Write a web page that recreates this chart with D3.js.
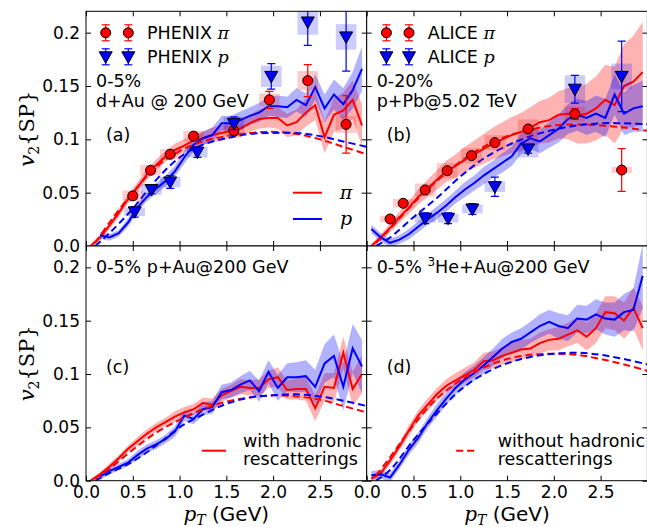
<!DOCTYPE html>
<html>
<head>
<meta charset="utf-8">
<script src="https://cdn.jsdelivr.net/npm/d3@7"></script>
<style>
body { margin: 0; background: #fff; }
text { font-family: "DejaVu Sans", sans-serif; fill: #000; }
.math { font-family: "DejaVu Serif", serif; font-style: italic; }
.rm { font-family: "DejaVu Serif", serif; }
</style>
</head>
<body>
<svg id="chart" width="647" height="527"></svg>
<script>
// ---- data ----
const ptModel = [0.05,0.15,0.25,0.35,0.45,0.55,0.65,0.75,0.85,0.95,1.05,1.15,1.25,1.35,1.45,1.55,1.65,1.75,1.85,1.95,2.05,2.15,2.25,2.35,2.45,2.55,2.65,2.75,2.85,2.95];
const ptNoResc = [0.1,0.25,0.5,0.75,1.0,1.25,1.5,1.75,2.0,2.25,2.5,2.75,3.0];
const xTicks = [0, 0.5, 1.0, 1.5, 2.0, 2.5, 3.0];
const xTickLabels = ['0.0', '0.5', '1.0', '1.5', '2.0', '2.5', ''];
const yTicks = [0, 0.05, 0.1, 0.15, 0.2];
const yTickLabels = ['0.0', '0.05', '0.1', '0.15', '0.2'];

// (a) d+Au 200 GeV
const aPiV2 = [0.000,0.008,0.019,0.031,0.044,0.055,0.067,0.076,0.084,0.090,0.094,0.099,0.101,0.104,0.106,0.108,0.110,0.115,0.119,0.120,0.120,0.113,0.116,0.125,0.132,0.102,0.123,0.127,0.137,0.113];
const aPiErr = [0.002,0.003,0.003,0.004,0.004,0.005,0.005,0.005,0.005,0.006,0.006,0.006,0.006,0.007,0.007,0.007,0.008,0.008,0.009,0.009,0.010,0.011,0.012,0.013,0.014,0.015,0.016,0.017,0.018,0.020];
const aPV2 = [null,0.010,0.008,0.012,0.022,0.036,0.046,0.054,0.061,0.070,0.083,0.095,0.101,0.104,0.115,0.115,0.118,0.122,0.125,0.131,0.131,0.130,0.137,0.132,0.149,0.129,0.142,0.133,0.146,0.166];
const aPErr = [null,0.003,0.003,0.003,0.004,0.004,0.004,0.005,0.005,0.005,0.006,0.006,0.006,0.007,0.007,0.007,0.008,0.008,0.009,0.009,0.010,0.010,0.011,0.011,0.012,0.013,0.014,0.015,0.017,0.021];
const aPiNoResc = [0.003,0.022,0.050,0.074,0.089,0.098,0.103,0.106,0.107,0.105,0.100,0.093,0.086];
const aPNoResc = [0.000,0.012,0.035,0.062,0.083,0.095,0.101,0.105,0.106,0.106,0.103,0.098,0.093];
const phenixPiPt = [0.50,0.69,0.90,1.15,1.58,1.96,2.37,2.78];
const phenixPiV2 = [0.047,0.071,0.086,0.103,0.108,0.137,0.155,0.114];
const phenixPiStat = [0.003,0.003,0.003,0.003,0.004,0.008,0.015,0.027];
const phenixPiSys = [0.005,0.005,0.005,0.005,0.005,0.006,0.009,0.008];
const phenixPPt = [0.52,0.70,0.90,1.19,1.58,1.98,2.37,2.78];
const phenixPV2 = [0.032,0.053,0.060,0.088,0.115,0.159,0.210,0.196];
const phenixPStat = [0.005,0.004,0.006,0.005,0.006,0.012,0.022,0.032];
const phenixPSys = [0.004,0.005,0.005,0.005,0.006,0.010,0.012,0.012];

// (b) p+Pb 5.02 TeV
const bPiV2 = [0.000,0.008,0.017,0.027,0.036,0.046,0.054,0.062,0.070,0.075,0.081,0.086,0.091,0.096,0.100,0.104,0.107,0.111,0.116,0.118,0.123,0.124,0.122,0.124,0.129,0.137,0.132,0.150,0.154,0.163];
const bPiErr = [0.002,0.003,0.004,0.005,0.006,0.007,0.008,0.009,0.010,0.011,0.012,0.013,0.014,0.015,0.016,0.017,0.018,0.019,0.020,0.021,0.022,0.024,0.026,0.028,0.030,0.033,0.036,0.039,0.043,0.047];
const bPV2 = [0.016,0.008,0.003,0.006,0.011,0.018,0.025,0.031,0.038,0.046,0.053,0.059,0.066,0.072,0.078,0.084,0.096,0.101,0.098,0.104,0.110,0.119,0.123,0.120,0.124,0.120,0.142,0.124,0.129,0.131];
const bPErr = [0.004,0.004,0.004,0.004,0.005,0.005,0.005,0.006,0.006,0.006,0.007,0.007,0.008,0.008,0.009,0.009,0.010,0.010,0.011,0.012,0.013,0.014,0.015,0.016,0.017,0.018,0.019,0.020,0.022,0.024];
const bPiNoResc = [0.003,0.016,0.040,0.061,0.079,0.093,0.103,0.109,0.113,0.114,0.113,0.111,0.108];
const bPNoResc = [0.000,0.008,0.027,0.045,0.065,0.082,0.094,0.103,0.109,0.113,0.115,0.115,0.114];
const alicePiPt = [0.25,0.39,0.625,0.86,1.12,1.37,1.725,2.225,2.725];
const alicePiV2 = [0.0253,0.040,0.0525,0.0706,0.0847,0.0969,0.1097,0.1237,0.0712];
const alicePiStat = [0.002,0.002,0.002,0.002,0.002,0.002,0.003,0.005,0.020];
const alicePiSys = [0.003,0.004,0.006,0.007,0.007,0.007,0.009,0.007,0.003];
const alicePPt = [0.625,0.87,1.13,1.37,1.725,2.225,2.725];
const alicePV2 = [0.026,0.026,0.0347,0.0556,0.091,0.147,0.159];
const alicePStat = [0.005,0.005,0.005,0.009,0.004,0.013,0.033];
const alicePSys = [0.004,0.004,0.004,0.005,0.008,0.013,0.012];

// (c) p+Au 200 GeV
const cPiV2 = [0.000,0.006,0.013,0.021,0.030,0.037,0.044,0.050,0.055,0.060,0.064,0.067,0.073,0.071,0.080,0.084,0.088,0.087,0.087,0.095,0.097,0.085,0.086,0.086,0.068,0.088,0.087,0.120,0.086,0.100];
const cPiErr = [0.002,0.002,0.003,0.003,0.003,0.004,0.004,0.004,0.004,0.005,0.005,0.005,0.005,0.006,0.006,0.006,0.007,0.007,0.008,0.008,0.009,0.009,0.010,0.011,0.012,0.013,0.014,0.015,0.016,0.018];
const cPV2 = [null,0.004,0.009,0.013,0.017,0.024,0.030,0.034,0.039,0.046,0.061,0.058,0.067,0.069,0.083,0.085,0.090,0.094,0.084,0.102,0.087,0.097,0.097,0.098,0.088,0.110,0.117,0.088,0.124,0.107];
const cPErr = [null,0.003,0.003,0.003,0.003,0.004,0.004,0.004,0.004,0.005,0.005,0.005,0.006,0.006,0.007,0.007,0.008,0.009,0.010,0.011,0.012,0.013,0.014,0.015,0.016,0.018,0.020,0.022,0.023,0.025];
const cPiNoResc = [0.002,0.011,0.029,0.045,0.057,0.067,0.074,0.078,0.080,0.079,0.076,0.070,0.064];
const cPNoResc = [0.000,0.007,0.018,0.033,0.050,0.062,0.072,0.078,0.080,0.081,0.079,0.075,0.070];

// (d) 3He+Au 200 GeV
const dPiV2 = [0.002,0.007,0.019,0.032,0.047,0.061,0.071,0.081,0.089,0.094,0.099,0.104,0.112,0.113,0.117,0.120,0.123,0.124,0.129,0.132,0.133,0.137,0.141,0.135,0.143,0.158,0.157,0.150,0.162,0.143];
const dPiErr = [0.003,0.003,0.004,0.004,0.005,0.005,0.006,0.006,0.006,0.007,0.007,0.007,0.008,0.008,0.008,0.009,0.009,0.009,0.010,0.010,0.011,0.011,0.012,0.013,0.014,0.015,0.016,0.017,0.019,0.021];
const dPV2 = [0.005,0.006,0.003,0.015,0.029,0.040,0.054,0.066,0.077,0.087,0.095,0.101,0.108,0.116,0.124,0.130,0.133,0.139,0.145,0.149,0.145,0.143,0.152,0.151,0.156,0.152,0.151,0.158,0.160,0.192];
const dPErr = [0.004,0.004,0.004,0.004,0.005,0.005,0.005,0.006,0.006,0.006,0.007,0.007,0.008,0.008,0.009,0.009,0.010,0.010,0.011,0.011,0.012,0.012,0.013,0.013,0.014,0.015,0.016,0.017,0.020,0.030];
const dPiNoResc = [0.005,0.022,0.052,0.077,0.094,0.106,0.114,0.118,0.119,0.118,0.114,0.109,0.103];
const dPNoResc = [0.000,0.010,0.038,0.063,0.085,0.100,0.110,0.116,0.119,0.120,0.118,0.114,0.109];

// ---- layout ----
const RED = '#ff0000', BLUE = '#0000ff';
const margin = { left: 86, top: 11.3 };
const panelW = 280.7, panelH = 234.7;
const svg = d3.select('#chart');

const panels = [
  { id: 'a', col: 0, row: 0, pi: [aPiV2, aPiErr], p: [aPV2, aPErr], noResc: [aPiNoResc, aPNoResc],
    data: [[phenixPiPt, phenixPiV2, phenixPiStat, phenixPiSys, 'pi'], [phenixPPt, phenixPV2, phenixPStat, phenixPSys, 'p']],
    exp: 'PHENIX', lines: ['0-5%', 'd+Au @ 200 GeV'], tag: '(a)' },
  { id: 'b', col: 1, row: 0, pi: [bPiV2, bPiErr], p: [bPV2, bPErr], noResc: [bPiNoResc, bPNoResc],
    data: [[alicePiPt, alicePiV2, alicePiStat, alicePiSys, 'pi'], [alicePPt, alicePV2, alicePStat, alicePSys, 'p']],
    exp: 'ALICE', lines: ['0-20%', 'p+Pb@5.02 TeV'], tag: '(b)' },
  { id: 'c', col: 0, row: 1, pi: [cPiV2, cPiErr], p: [cPV2, cPErr], noResc: [cPiNoResc, cPNoResc],
    data: [], title: '0-5% p+Au@200 GeV', tag: '(c)' },
  { id: 'd', col: 1, row: 1, pi: [dPiV2, dPiErr], p: [dPV2, dPErr], noResc: [dPiNoResc, dPNoResc],
    data: [], title: 'he', tag: '(d)' }
];

function triangle(sel, cx, cy, color) {
  sel.append('path')
    .attr('d', 'M-6.5,-5 L6.5,-5 L0,6.5 Z')
    .attr('transform', 'translate(' + cx + ',' + cy + ')')
    .attr('fill', color).attr('stroke', '#000').attr('stroke-width', 1);
}
function circle(sel, cx, cy, color) {
  sel.append('circle').attr('cx', cx).attr('cy', cy).attr('r', 5)
    .attr('fill', color).attr('stroke', '#000').attr('stroke-width', 1);
}
function errbar(sel, cx, ya, yb, color) {
  sel.append('line').attr('x1', cx).attr('x2', cx).attr('y1', ya).attr('y2', yb)
    .attr('stroke', color).attr('stroke-width', 1.2);
  [ya, yb].forEach(yy => sel.append('line').attr('x1', cx - 4).attr('x2', cx + 4)
    .attr('y1', yy).attr('y2', yy).attr('stroke', color).attr('stroke-width', 1.2));
}

panels.forEach(p => {
  const x0 = margin.left + p.col * panelW;
  const y0 = margin.top + p.row * panelH;
  const x = d3.scaleLinear().domain([0, 3]).range([x0, x0 + panelW]);
  const y = d3.scaleLinear().domain([0, 0.22]).range([y0 + panelH, y0]);
  const g = svg.append('g');

  g.append('rect').attr('x', x0).attr('y', y0).attr('width', panelW).attr('height', panelH).attr('fill', '#fff');
  svg.append('clipPath').attr('id', 'clip-' + p.id)
    .append('rect').attr('x', x0).attr('y', y0).attr('width', panelW).attr('height', panelH);
  const plot = g.append('g').attr('clip-path', 'url(#clip-' + p.id + ')');

  const idx = d3.range(ptModel.length);
  // bands
  [[p.pi, RED], [p.p, BLUE]].forEach(([[v, e], color]) => {
    const area = d3.area()
      .defined(i => v[i] != null)
      .x(i => x(ptModel[i]))
      .y0(i => y(v[i] - e[i]))
      .y1(i => y(v[i] + e[i]));
    plot.append('path').attr('d', area(idx)).attr('fill', color).attr('fill-opacity', 0.3);
  });
  // solid lines
  [[p.pi[0], RED], [p.p[0], BLUE]].forEach(([v, color]) => {
    const line = d3.line().defined(i => v[i] != null).x(i => x(ptModel[i])).y(i => y(v[i]));
    plot.append('path').attr('d', line(idx)).attr('fill', 'none')
      .attr('stroke', color).attr('stroke-width', 2);
  });
  // dashed (without rescatterings)
  const idx2 = d3.range(ptNoResc.length);
  [[p.noResc[0], RED], [p.noResc[1], BLUE]].forEach(([v, color]) => {
    const line = d3.line().curve(d3.curveCatmullRom).x(i => x(ptNoResc[i])).y(i => y(v[i]));
    plot.append('path').attr('d', line(idx2)).attr('fill', 'none')
      .attr('stroke', color).attr('stroke-width', 2).attr('stroke-dasharray', '7,4');
  });
  // experimental data
  p.data.forEach(([pt, v2, stat, sys, kind]) => {
    const color = kind === 'pi' ? RED : BLUE;
    pt.forEach((t, i) => {
      plot.append('rect')
        .attr('x', x(t - 0.11)).attr('width', x(t + 0.11) - x(t - 0.11))
        .attr('y', y(v2[i] + sys[i])).attr('height', y(v2[i] - sys[i]) - y(v2[i] + sys[i]))
        .attr('fill', color).attr('fill-opacity', 0.2);
    });
  });
  p.data.forEach(([pt, v2, stat, sys, kind]) => {
    const color = kind === 'pi' ? RED : BLUE;
    pt.forEach((t, i) => {
      errbar(plot, x(t), y(v2[i] + stat[i]), y(v2[i] - stat[i]), color);
      if (kind === 'pi') circle(plot, x(t), y(v2[i]), color);
      else triangle(plot, x(t), y(v2[i]), color);
    });
  });

  // axes with inward ticks
  const fmtY = d => yTickLabels[yTicks.indexOf(d)];
  const fmtX = d => xTickLabels[xTicks.indexOf(d)];
  const left = d3.axisLeft(y).tickValues(yTicks).tickSizeInner(-5).tickSizeOuter(0).tickPadding(6)
    .tickFormat(p.col === 0 ? fmtY : '');
  const right = d3.axisRight(y).tickValues(yTicks).tickSizeInner(-5).tickSizeOuter(0).tickFormat('');
  const bottom = d3.axisBottom(x).tickValues(xTicks).tickSizeInner(-5).tickSizeOuter(0).tickPadding(5)
    .tickFormat(p.row === 1 ? fmtX : '');
  const top = d3.axisTop(x).tickValues(xTicks).tickSizeInner(-5).tickSizeOuter(0).tickFormat('');
  [[left, 'translate(' + x0 + ',0)'], [right, 'translate(' + (x0 + panelW) + ',0)'],
   [bottom, 'translate(0,' + (y0 + panelH) + ')'], [top, 'translate(0,' + y0 + ')']].forEach(([ax, tr]) => {
    const ga = g.append('g').attr('transform', tr).call(ax);
    ga.select('.domain').remove();
    ga.selectAll('line').attr('stroke', '#000').attr('stroke-width', 1);
    ga.selectAll('text').style('font-family', '"DejaVu Sans", sans-serif').style('font-size', '17px').attr('fill', '#000');
  });
  g.append('rect').attr('x', x0).attr('y', y0).attr('width', panelW).attr('height', panelH)
    .attr('fill', 'none').attr('stroke', '#000').attr('stroke-width', 1);

  // annotations
  const fs = '17.5px';
  if (p.lines) {
    p.lines.forEach((s, i) => g.append('text').attr('x', x0 + 10).attr('y', y0 + 76 + i * 20)
      .style('font-size', fs).text(s));
    // data legend
    const lg = g.append('g');
    [['pi', 21.5], ['p', 45.5]].forEach(([kind, dy]) => {
      const color = kind === 'pi' ? RED : BLUE;
      const cy = y0 + dy;
      [19.7, 42.3].forEach(dx => {
        errbar(lg, x0 + dx, cy - 8, cy + 8, color);
        if (kind === 'pi') circle(lg, x0 + dx, cy, color); else triangle(lg, x0 + dx, cy, color);
      });
      const t = lg.append('text').attr('x', x0 + 61).attr('y', cy + 6).style('font-size', fs);
      t.append('tspan').text(p.exp + ' ');
      t.append('tspan').attr('class', 'math').text(kind === 'pi' ? 'π' : 'p');
    });
  } else {
    const t = g.append('text').attr('x', x0 + 10).attr('y', y0 + 27).style('font-size', fs);
    if (p.id === 'c') t.text(p.title);
    else {
      t.append('tspan').text('0-5% ');
      t.append('tspan').attr('dy', -7).style('font-size', '12px').text('3');
      t.append('tspan').attr('dy', 7).text('He+Au@200 GeV');
    }
  }
  g.append('text').attr('x', x0 + 20).attr('y', y0 + (p.row === 0 ? 130 : 127)).style('font-size', fs).text(p.tag);

  // model legends
  if (p.id === 'a') {
    [['π', RED, 181.4], ['p', BLUE, 207.7]].forEach(([s, color, yy]) => {
      g.append('line').attr('x1', x0 + 207).attr('x2', x0 + 236).attr('y1', y0 + yy).attr('y2', y0 + yy)
        .attr('stroke', color).attr('stroke-width', 2);
      g.append('text').attr('class', 'math').attr('x', x0 + 260).attr('y', y0 + yy + 6)
        .attr('text-anchor', 'middle').style('font-size', '19px').text(s);
    });
  }
  if (p.row === 1) {
    const with_ = p.id === 'c';
    const ly = y0 + 204.7;
    g.append('line').attr('x1', x0 + (with_ ? 116 : 89.4)).attr('x2', x0 + (with_ ? 140 : 109.4))
      .attr('y1', ly).attr('y2', ly).attr('stroke', RED).attr('stroke-width', 2)
      .attr('stroke-dasharray', with_ ? null : '7,4');
    const tx = x0 + (with_ ? 157 : 131);
    g.append('text').attr('x', tx).attr('y', ly - 4).style('font-size', fs)
      .text(with_ ? 'with hadronic' : 'without hadronic');
    g.append('text').attr('x', tx).attr('y', ly + 14).style('font-size', fs).text('rescatterings');
  }
});

// axis titles
[margin.top + panelH / 2, margin.top + panelH * 1.5].forEach(cy => {
  const t = svg.append('text').attr('transform', 'translate(34,' + cy + ') rotate(-90)')
    .attr('text-anchor', 'middle').style('font-size', '21px');
  t.append('tspan').attr('class', 'math').text('v');
  t.append('tspan').attr('class', 'rm').attr('dy', 5).style('font-size', '14px').text('2');
  t.append('tspan').attr('class', 'rm').attr('dy', -5).text('{SP}');
});
[margin.left + panelW / 2, margin.left + panelW * 1.5].forEach(cx => {
  const t = svg.append('text').attr('x', cx).attr('y', 521).attr('text-anchor', 'middle').style('font-size', '20px');
  t.append('tspan').attr('class', 'math').text('p');
  t.append('tspan').attr('class', 'math').attr('dy', 4).style('font-size', '14px').text('T');
  t.append('tspan').attr('dy', -4).text(' (GeV)');
});
</script>
</body>
</html>
